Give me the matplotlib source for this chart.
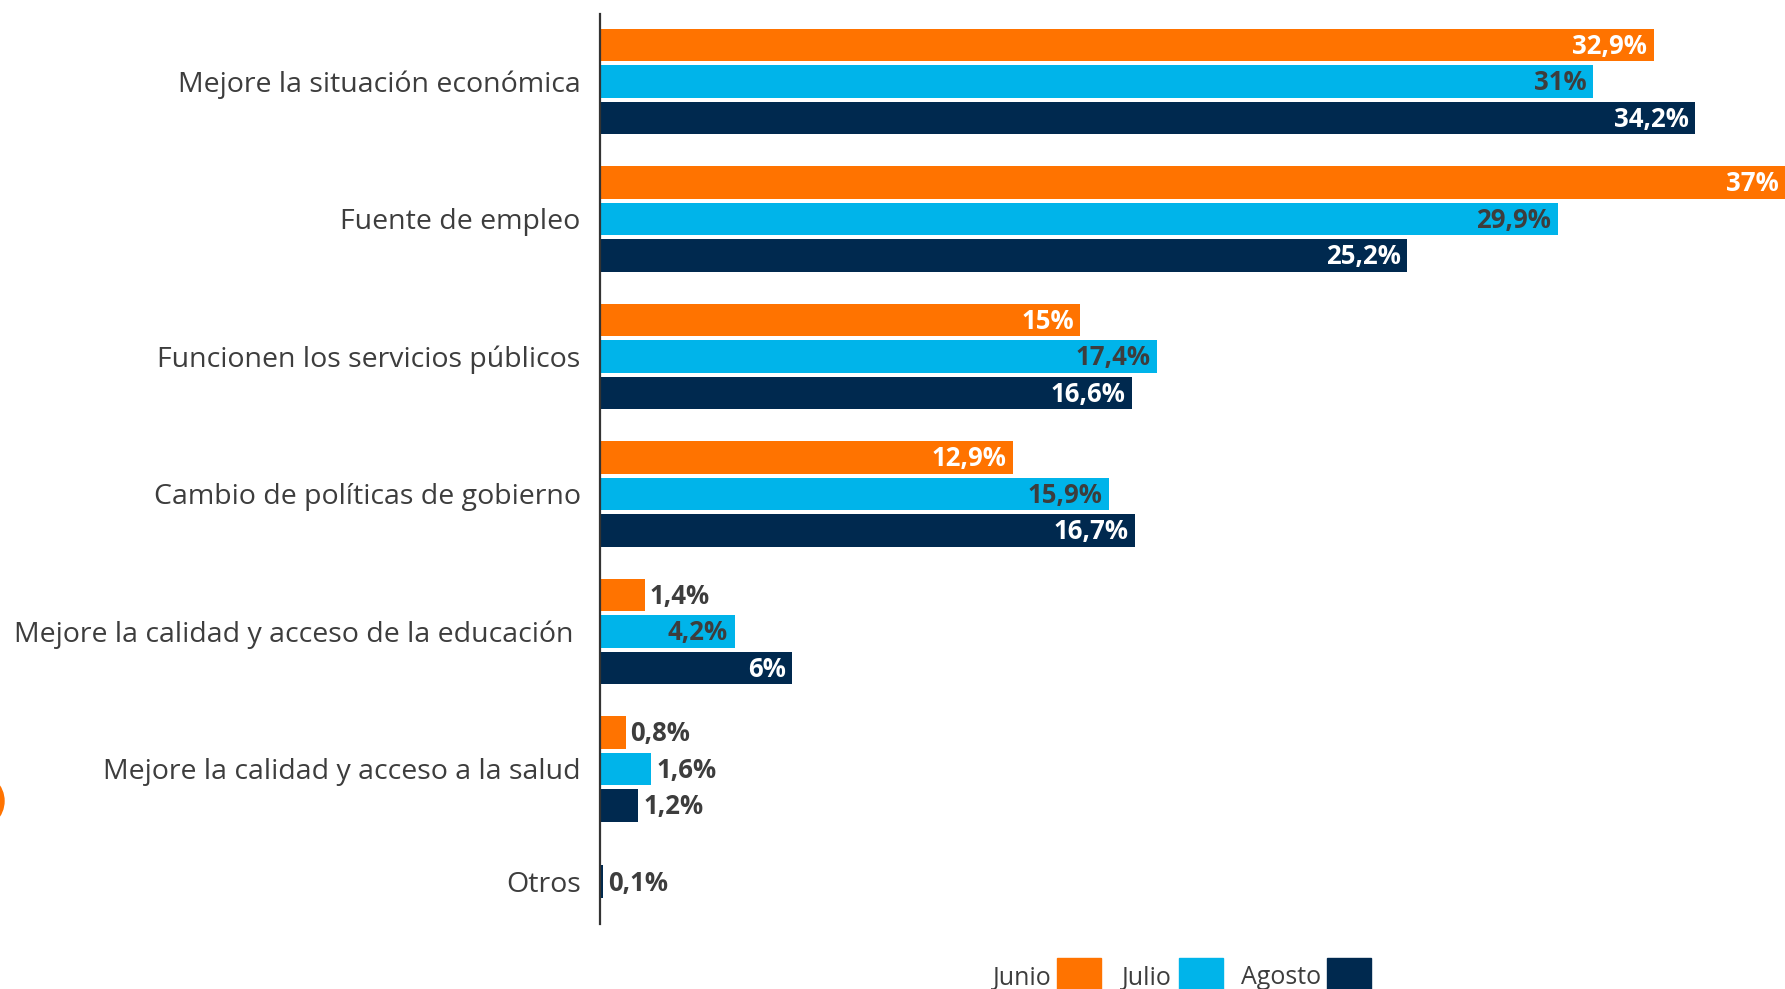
import numpy as np
import matplotlib
matplotlib.use("Agg")
import matplotlib.pyplot as plt
import matplotlib.patches as patches

plt.rcParams['font.family'] = ['Open Sans', 'DejaVu Sans']

categories = [
    "Mejore la situación económica",
    "Fuente de empleo",
    "Funcionen los servicios públicos",
    "Cambio de políticas de gobierno",
    "Mejore la calidad y acceso de la educación ",
    "Mejore la calidad y acceso a la salud",
    "Otros",
]
series_names = ["Junio", "Julio", "Agosto"]
junio = [32.9, 37.0, 15.0, 12.9, 1.4, 0.8, np.nan]
julio = [31.0, 29.9, 17.4, 15.9, 4.2, 1.6, np.nan]
agosto = [34.2, 25.2, 16.6, 16.7, 6.0, 1.2, 0.1]

colors = ["#FF7300", "#00B4EA", "#00294F"]
inside_text = ["white", "#3d3d3d", "white"]
dark = "#3d3d3d"

W, H = 1785, 989
fig = plt.figure(figsize=(W / 100, H / 100), dpi=100)
ax = fig.add_axes([600 / W, 65 / H, 1185 / W, 910 / H])

values = [junio, julio, agosto]
centers = np.arange(len(categories), dtype=float)
centers[-1] -= 0.18  # "Otros" group sits a bit higher
step = 0.265
bar_h = 0.236
xmax = 37.0

def fmt(v):
    return f"{v:g}".replace(".", ",") + "%"

for i, c in enumerate(centers):
    present = [k for k in range(3) if not np.isnan(values[k][i])]
    offsets = {k: (j - (len(present) - 1) / 2) * step for j, k in enumerate(present)}
    for k in present:
        v = values[k][i]
        y = c + offsets[k] + 0.01
        ax.barh(c + offsets[k], v, height=bar_h, color=colors[k], edgecolor="none")
        if v >= 3:
            ax.text(min(v, xmax) - 0.2, y, fmt(v), ha="right", va="center",
                    fontsize=18.5, fontweight="bold", color=inside_text[k])
        else:
            ax.text(v + 0.15, y, fmt(v), ha="left", va="center",
                    fontsize=18.5, fontweight="bold", color=dark)

ax.set_xlim(0, xmax)
ax.set_ylim(6.128, -0.49)
ax.set_yticks(centers)
ax.set_yticklabels(categories, fontsize=20.5, color=dark, fontweight="medium")
ax.tick_params(axis="y", length=0, pad=14)
ax.set_xticks([])
for s in ["top", "right", "bottom"]:
    ax.spines[s].set_visible(False)
ax.spines["left"].set_color("#333333")
ax.spines["left"].set_linewidth(1.6)

# legend: text followed by colour swatch
leg_text_x = [993, 1122, 1241]
leg_box_x = [1057, 1179, 1327]
for name, col, tx, bx in zip(series_names, colors, leg_text_x, leg_box_x):
    fig.text(tx / W, 1 - 978 / H, name, fontsize=18, color=dark, va="center", ha="left")
    fig.patches.append(patches.Rectangle((bx / W, 1 - 1000 / H), 44 / W, 42 / H,
                                         transform=fig.transFigure, color=col))

# partial orange dot at left edge
fig.patches.append(patches.Ellipse((-24 / W, 1 - 801 / H), 56 / W, 56 / H,
                                   transform=fig.transFigure, color=colors[0]))

fig.savefig("out.png", dpi=100)
